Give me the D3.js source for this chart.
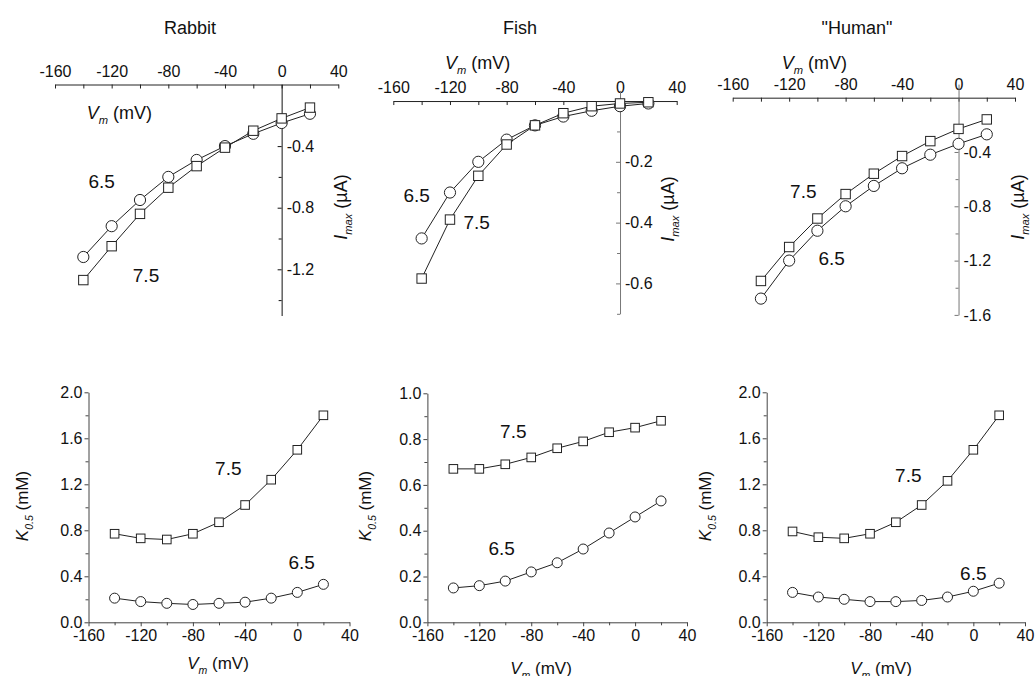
<!DOCTYPE html>
<html>
<head>
<meta charset="utf-8">
<script src="https://cdn.jsdelivr.net/npm/d3@7"></script>
<style>
  body { margin: 0; background: #fff; }
  svg { font-family: "Liberation Sans", Arial, sans-serif; }
</style>
</head>
<body>
<svg id="chart" width="1035" height="676"></svg>
<script>
// membrane potentials (mV) for every series
const voltages = [-140, -120, -100, -80, -60, -40, -20, 0, 20];
const titles = ['Rabbit', 'Fish', '"Human"'];
const xTicks = [-160, -120, -80, -40, 0, 40];
const xMinorTicks = [-140, -100, -60, -20, 20];

// I_max (uA), top row
const rabbitImax75 = [-1.27, -1.05, -0.84, -0.67, -0.53, -0.41, -0.30, -0.22, -0.15];
const rabbitImax65 = [-1.12, -0.92, -0.75, -0.60, -0.49, -0.40, -0.32, -0.25, -0.19];
const fishImax75 = [-0.584, -0.390, -0.246, -0.143, -0.080, -0.040, -0.017, -0.008, -0.004];
const fishImax65 = [-0.452, -0.301, -0.200, -0.127, -0.080, -0.051, -0.032, -0.017, -0.008];
const humanImax75 = [-1.35, -1.10, -0.89, -0.71, -0.56, -0.43, -0.32, -0.23, -0.16];
const humanImax65 = [-1.48, -1.20, -0.98, -0.80, -0.65, -0.52, -0.42, -0.34, -0.27];

// K_0.5 (mM), bottom row
const rabbitK75 = [0.77, 0.73, 0.72, 0.77, 0.87, 1.02, 1.24, 1.50, 1.80];
const rabbitK65 = [0.21, 0.18, 0.165, 0.155, 0.165, 0.175, 0.21, 0.26, 0.33];
const fishK75 = [0.67, 0.67, 0.69, 0.72, 0.76, 0.79, 0.83, 0.85, 0.88];
const fishK65 = [0.15, 0.16, 0.18, 0.22, 0.26, 0.32, 0.39, 0.46, 0.53];
const humanK75 = [0.79, 0.74, 0.73, 0.77, 0.87, 1.02, 1.23, 1.50, 1.80];
const humanK65 = [0.26, 0.22, 0.20, 0.18, 0.18, 0.19, 0.22, 0.27, 0.34];

// tick values for the y axes
const imaxTicksRabbit = [-0.4, -0.8, -1.2];
const imaxMinorRabbit = [-0.2, -0.6, -1.0, -1.4];
const imaxTicksFish = [-0.2, -0.4, -0.6];
const imaxMinorFish = [-0.1, -0.3, -0.5, -0.7];
const imaxTicksHuman = [-0.4, -0.8, -1.2, -1.6];
const imaxMinorHuman = [-0.2, -0.6, -1.0, -1.4];
const kTicks2 = [0, 0.4, 0.8, 1.2, 1.6, 2.0];
const kMinor2 = [0.2, 0.6, 1.0, 1.4, 1.8];
const kTicks1 = [0, 0.2, 0.4, 0.6, 0.8, 1.0];
const kMinor1 = [0.1, 0.3, 0.5, 0.7, 0.9];

const svg = d3.select('#chart');
const ink = '#222';
const TICK_FONT = 16;
const LABEL_FONT = 18;

// plain hyphen minus like the original figure
const fmt1 = d => d3.format('.1f')(d).replace('\u2212', '-');
const fmt0 = d => String(d);

// writes text made of parts, some italic, some subscript
const richText = (sel, parts, size) => {
    let shift = 0;
    parts.forEach(p => {
        const want = p.sub ? size * 0.3 : 0;
        sel.append('tspan')
            .text(p.t)
            .attr('font-style', p.it ? 'italic' : 'normal')
            .attr('font-size', p.sub ? size * 0.62 : size)
            .attr('dy', want - shift);
        shift = want;
    });
};

const vmParts = [{ t: 'V', it: true }, { t: 'm', it: true, sub: true }, { t: ' (mV)' }];
const imaxParts = [{ t: 'I', it: true }, { t: 'max', it: true, sub: true }, { t: ' (\u00b5A)' }];
const kParts = [{ t: 'K', it: true }, { t: '0.5', it: true, sub: true }, { t: ' (mM)' }];

const styleAxis = (g, color) => {
    g.attr('font-family', null).attr('font-size', TICK_FONT);
    g.selectAll('path').attr('stroke', color);
    g.selectAll('line').attr('stroke', color);
    g.selectAll('text').attr('fill', '#111');
};

const minor = (g, axis, color) => {
    g.call(axis.tickFormat('').tickSizeOuter(0));
    g.select('.domain').remove();
    g.selectAll('line').attr('stroke', color);
};

const drawSeries = (g, x, y, values, shape, r) => {
    const pts = voltages.map((v, i) => [v, values[i]]);
    g.append('path')
        .datum(pts)
        .attr('fill', 'none')
        .attr('stroke', ink)
        .attr('stroke-width', 1)
        .attr('d', d3.line().x(d => x(d[0])).y(d => y(d[1])));
    if (shape === 'circle') {
        g.selectAll(null).data(pts).enter().append('circle')
            .attr('cx', d => x(d[0])).attr('cy', d => y(d[1])).attr('r', r)
            .attr('fill', '#fff').attr('stroke', ink).attr('stroke-width', 1);
    } else {
        g.selectAll(null).data(pts).enter().append('rect')
            .attr('x', d => x(d[0]) - r).attr('y', d => y(d[1]) - r)
            .attr('width', 2 * r).attr('height', 2 * r)
            .attr('fill', '#fff').attr('stroke', ink).attr('stroke-width', 1);
    }
};

const note = (g, text, px, py) => {
    g.append('text').attr('x', px).attr('y', py).attr('dy', '0.35em')
        .attr('text-anchor', 'middle').attr('font-size', 19).attr('fill', '#111').text(text);
};

// top row: I_max vs V_m, axes crossing at the origin
const topPanels = [
    { xRange: [55, 338.3], yDomain: [-1.5, 0], yRange: [315.5, 84.5], ticks: imaxTicksRabbit, minor: imaxMinorRabbit,
      s75: rabbitImax75, s65: rabbitImax65, yColor: '#111',
      vm: [86.7, 119], ylab: [347, 207], n65: [101.7, 181.7], n75: [146, 275] },
    { xRange: [393.3, 676.7], yDomain: [-0.7, 0.035], yRange: [313.8, 90.4], ticks: imaxTicksFish, minor: imaxMinorFish,
      s75: fishImax75, s65: fishImax65, yColor: '#777',
      vm: [445, 69], ylab: [673.5, 209], n65: [416.7, 195], n75: [476.7, 222.7] },
    { xRange: [732.7, 1015], yDomain: [-1.6, 0.1], yRange: [314.9, 84.1], ticks: imaxTicksHuman, minor: imaxMinorHuman,
      s75: humanImax75, s65: humanImax65, yColor: '#777',
      vm: [781.7, 69], ylab: [1024, 207], n65: [831.7, 258.3], n75: [803.3, 191.7] }
];

topPanels.forEach(p => {
    const g = svg.append('g');
    const x = d3.scaleLinear().domain([-160, 40]).range(p.xRange);
    const y = d3.scaleLinear().domain(p.yDomain).range(p.yRange);

    const xa = g.append('g').attr('transform', `translate(0,${y(0)})`)
        .call(d3.axisTop(x).tickValues(xTicks).tickFormat(fmt0).tickSizeInner(-4).tickSizeOuter(0).tickPadding(8));
    styleAxis(xa, ink);
    minor(g.append('g').attr('transform', `translate(0,${y(0)})`),
        d3.axisTop(x).tickValues(xMinorTicks).tickSizeInner(-4), ink);

    const ya = g.append('g').attr('transform', `translate(${x(0)},0)`)
        .call(d3.axisRight(y).tickValues(p.ticks).tickSizeInner(-4).tickSizeOuter(0).tickPadding(5)
            .tickFormat(fmt1));
    styleAxis(ya, p.yColor);
    minor(g.append('g').attr('transform', `translate(${x(0)},0)`),
        d3.axisRight(y).tickValues(p.minor).tickSizeInner(-3), p.yColor);

    drawSeries(g, x, y, p.s65, 'circle', 5.6);
    drawSeries(g, x, y, p.s75, 'square', 4.7);

    richText(g.append('text').attr('x', p.vm[0]).attr('y', p.vm[1]).attr('fill', '#111'), vmParts, LABEL_FONT);
    richText(g.append('text').attr('transform', `translate(${p.ylab[0]},${p.ylab[1]}) rotate(-90)`)
        .attr('text-anchor', 'middle').attr('dy', '0.35em').attr('fill', '#111'), imaxParts, LABEL_FONT);
    note(g, '6.5', p.n65[0], p.n65[1]);
    note(g, '7.5', p.n75[0], p.n75[1]);
});

// bottom row: K_0.5 vs V_m, axes on the left and bottom
const bottomPanels = [
    { xRange: [88.5, 349.5], yDomain: [0, 2], yRange: [622.3, 392.3], ticks: kTicks2, minor: kMinor2,
      s75: rabbitK75, s65: rabbitK65, vm: [218, 669], klab: [28, 506], n75: [228.3, 468.3], n65: [301.7, 562.7] },
    { xRange: [427.4, 687], yDomain: [0, 1], yRange: [622.3, 393.3], ticks: kTicks1, minor: kMinor1,
      s75: fishK75, s65: fishK65, vm: [541, 674], klab: [371, 506], n75: [513.3, 431.7], n65: [501.7, 548.3] },
    { xRange: [766.7, 1025], yDomain: [0, 2], yRange: [622.3, 392.3], ticks: kTicks2, minor: kMinor2,
      s75: humanK75, s65: humanK65, vm: [881, 674], klab: [711, 506], n75: [908.3, 475], n65: [973.3, 573.3] }
];

bottomPanels.forEach(p => {
    const g = svg.append('g');
    const x = d3.scaleLinear().domain([-160, 40]).range(p.xRange);
    const y = d3.scaleLinear().domain(p.yDomain).range(p.yRange);

    const xa = g.append('g').attr('transform', `translate(0,${p.yRange[0]})`)
        .call(d3.axisBottom(x).tickValues(xTicks).tickFormat(fmt0).tickSizeInner(4).tickSizeOuter(0).tickPadding(3));
    styleAxis(xa, '#444');
    minor(g.append('g').attr('transform', `translate(0,${p.yRange[0]})`),
        d3.axisBottom(x).tickValues(xMinorTicks).tickSizeInner(3), '#444');

    const ya = g.append('g').attr('transform', `translate(${p.xRange[0]},0)`)
        .call(d3.axisLeft(y).tickValues(p.ticks).tickSizeInner(4).tickSizeOuter(0).tickPadding(2)
            .tickFormat(fmt1));
    styleAxis(ya, '#444');
    minor(g.append('g').attr('transform', `translate(${p.xRange[0]},0)`),
        d3.axisLeft(y).tickValues(p.minor).tickSizeInner(3), '#444');

    drawSeries(g, x, y, p.s65, 'circle', 5);
    drawSeries(g, x, y, p.s75, 'square', 4.3);

    richText(g.append('text').attr('x', p.vm[0]).attr('y', p.vm[1]).attr('text-anchor', 'middle')
        .attr('fill', '#111'), vmParts, 17);
    richText(g.append('text').attr('transform', `translate(${p.klab[0]},${p.klab[1]}) rotate(-90)`)
        .attr('text-anchor', 'middle').attr('dy', '0.35em').attr('fill', '#111'), kParts, 17);
    note(g, '7.5', p.n75[0], p.n75[1]);
    note(g, '6.5', p.n65[0], p.n65[1]);
});

// titles over each column
const titleX = [190, 520, 857];
svg.selectAll('text.title').data(titles).enter().append('text')
    .attr('class', 'title')
    .attr('x', (d, i) => titleX[i]).attr('y', 34)
    .attr('text-anchor', 'middle').attr('font-size', 18).attr('fill', '#111')
    .text(d => d);
</script>
</body>
</html>
